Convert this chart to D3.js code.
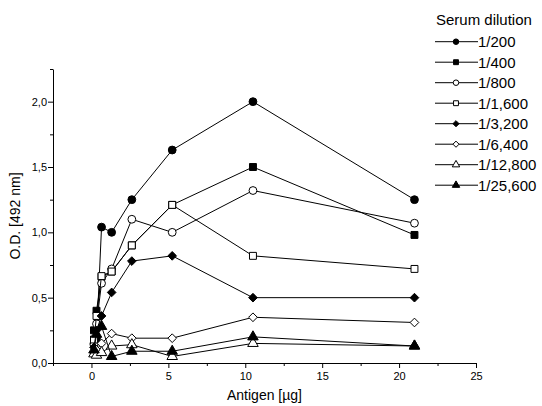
<!DOCTYPE html>
<html>
<head>
<meta charset="utf-8">
<script src="https://cdn.jsdelivr.net/npm/d3@7"></script>
<style>
  body { margin: 0; background: #fff; }
  svg { font-family: Arial, "Liberation Sans", sans-serif; }
</style>
</head>
<body>
<script>
  const width = 542;
  const height = 406;

  // antigen amounts (ug)
  const antigen = [0.164, 0.328, 0.656, 1.3125, 2.625, 5.25, 10.5, 21];

  const dilutions = ['1/200', '1/400', '1/800', '1/1,600', '1/3,200', '1/6,400', '1/12,800', '1/25,600'];

  const od200 = [0.15, 0.19, 1.04, 1.00, 1.25, 1.63, 2.00, 1.25];
  const od400 = [0.25, 0.40, 0.66, 0.70, 0.90, 1.21, 1.50, 0.98];
  const od800 = [0.14, 0.30, 0.61, 0.72, 1.10, 1.00, 1.32, 1.07];
  const od1600 = [0.18, 0.36, 0.665, 0.70, 0.90, 1.21, 0.82, 0.72];
  const od3200 = [0.12, 0.25, 0.36, 0.54, 0.78, 0.82, 0.50, 0.50];
  const od6400 = [0.08, 0.10, 0.15, 0.225, 0.19, 0.19, 0.35, 0.31];
  const od12800 = [0.07, 0.06, 0.08, 0.13, 0.14, 0.05, 0.15, 0.13];
  const od25600 = [0.10, 0.22, 0.28, 0.05, 0.09, 0.09, 0.20, 0.13];

  const seriesValues = [od200, od400, od800, od1600, od3200, od6400, od12800, od25600];

  const xTicks = [0, 5, 10, 15, 20, 25];
  const yTicks = [0, 0.5, 1.0, 1.5, 2.0];

  // marker per series: [shape, filled]
  const markers = [
    [d3.symbolCircle, true],
    [d3.symbolSquare, true],
    [d3.symbolCircle, false],
    [d3.symbolSquare, false],
    [d3.symbolDiamond2, true],
    [d3.symbolDiamond2, false],
    [d3.symbolTriangle, false],
    [d3.symbolTriangle, true]
  ];

  const margin = { left: 53, top: 69, right: 66, bottom: 43 };
  const font = 'Arial, "Liberation Sans", sans-serif';

  const svg = d3.select('body').append('svg')
    .attr('width', width)
    .attr('height', height);

  const x = d3.scaleLinear().domain([-2.5, 25]).range([margin.left, width - margin.right]);
  const y = d3.scaleLinear().domain([0, 2.25]).range([height - margin.bottom, margin.top]);

  // axes: major ticks plus minor ticks in between
  const xMinor = d3.range(-2.5, 25.01, 2.5).filter(v => !xTicks.includes(v));
  const yMinor = d3.range(0.25, 2.26, 0.5);

  svg.append('g')
    .attr('transform', `translate(0,${y(0)})`)
    .call(d3.axisBottom(x).tickValues(xMinor).tickSize(3).tickFormat(''))
    .call(g => g.select('.domain').remove());

  svg.append('g')
    .attr('transform', `translate(0,${y(0)})`)
    .call(d3.axisBottom(x).tickValues(xTicks).tickSize(5).tickSizeOuter(0).tickPadding(4))
    .call(g => g.selectAll('text').attr('font-size', 11).attr('font-family', font));

  svg.append('g')
    .attr('transform', `translate(${x(-2.5)},0)`)
    .call(d3.axisLeft(y).tickValues(yMinor).tickSize(3).tickFormat(''))
    .call(g => g.select('.domain').remove());

  svg.append('g')
    .attr('transform', `translate(${x(-2.5)},0)`)
    .call(d3.axisLeft(y).tickValues(yTicks).tickSize(5).tickSizeOuter(0).tickPadding(1)
      .tickFormat(d => d3.format('.1f')(d).replace('.', ',')))
    .call(g => g.selectAll('text').attr('font-size', 11).attr('font-family', font));

  svg.append('text')
    .attr('x', x(11.25))
    .attr('y', 400)
    .attr('text-anchor', 'middle')
    .attr('font-size', 14)
    .text('Antigen [µg]');

  svg.append('text')
    .attr('transform', `translate(20,${y(1.125)}) rotate(-90)`)
    .attr('text-anchor', 'middle')
    .attr('font-size', 14)
    .text('O.D. [492 nm]');

  const line = d3.line()
    .x((d, i) => x(antigen[i]))
    .y(d => y(d));

  const sym = (i, size) => d3.symbol().type(markers[i][0]).size(size)();

  seriesValues.forEach((vals, i) => {
    const g = svg.append('g');
    g.append('path')
      .attr('d', line(vals))
      .attr('fill', 'none')
      .attr('stroke', '#000')
      .attr('stroke-width', 1);
    g.selectAll('path.pt').data(vals).join('path')
      .attr('class', 'pt')
      .attr('transform', (d, j) => `translate(${x(antigen[j])},${y(d)})`)
      .attr('d', sym(i, 48))
      .attr('fill', markers[i][1] ? '#000' : '#fff')
      .attr('stroke', '#000')
      .attr('stroke-width', 1);
  });

  // legend
  const legend = svg.append('g');
  legend.append('text')
    .attr('x', 436)
    .attr('y', 25)
    .attr('font-size', 15)
    .text('Serum dilution');

  const rows = legend.selectAll('g.row').data(dilutions).join('g')
    .attr('class', 'row')
    .attr('transform', (d, i) => `translate(435,${41.7 + i * 20.5})`);
  rows.append('line')
    .attr('x1', 0).attr('x2', 43)
    .attr('stroke', '#000');
  rows.append('path')
    .attr('transform', 'translate(21,0)')
    .attr('d', (d, i) => sym(i, 24))
    .attr('fill', (d, i) => markers[i][1] ? '#000' : '#fff')
    .attr('stroke', '#000');
  rows.append('text')
    .attr('x', 43)
    .attr('dy', '0.36em')
    .attr('font-size', 15)
    .text(d => d);
</script>
</body>
</html>
